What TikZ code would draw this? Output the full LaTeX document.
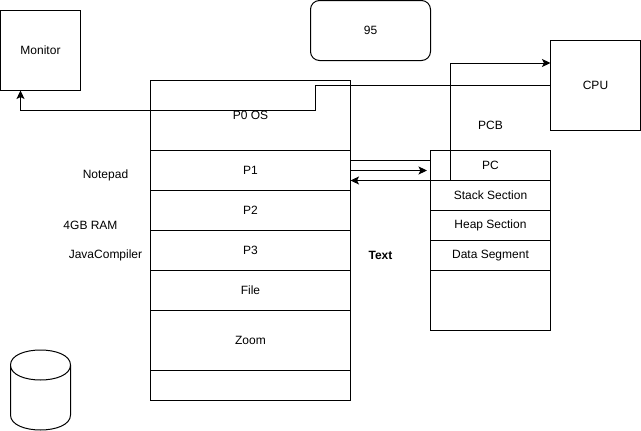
\documentclass[tikz,border=0pt]{standalone}
\usepackage{fontspec}
\setmainfont{Liberation Sans}
\usetikzlibrary{arrows.meta}

\tikzset{
  cell/.style={rectangle, draw, line width=1pt, inner sep=0pt, outer sep=0pt, font=\fontsize{12}{14}\selectfont},
  label/.style={inner sep=0pt, font=\fontsize{12}{14}\selectfont},
  link/.style={line width=1pt, -{Stealth[length=8.5pt,width=8pt,inset=2pt]}}
}

\begin{document}
\begin{tikzpicture}[x=1pt, y=-1pt, line width=1pt]
   \useasboundingbox (0,0) rectangle (641,431);

   \node [cell, minimum width=80pt, minimum height=80pt] (monitor) at (40.5,50.5) {Monitor};
   \node [cell, minimum width=90pt, minimum height=90pt] (cpu) at (595.5,85.5) {CPU};
   \node [cell, rounded corners=9pt, minimum width=120pt, minimum height=60pt] (box) at (370.5,30.5) {95};

   % memory
   \foreach \n/\y/\h/\t in {os/115.5/70/P0 OS, p1/170.5/40/P1, p2/210.5/40/P2, p3/250.5/40/P3,
                            file/290.5/40/File, zoom/340.5/60/Zoom, free/385.5/30/}
     \node [cell, minimum width=200pt, minimum height=\h pt] (\n) at (250.5,\y) {\t};

   % pcb
   \foreach \n/\y/\h/\t in {pc/165.5/30/PC, stack/195.5/30/Stack Section, heap/225.5/30/Heap Section,
                            data/255.5/30/Data Segment, rest/300.5/60/}
     \node [cell, minimum width=120pt, minimum height=\h pt] (\n) at (490.5,\y) {\t};

   \foreach \n/\x/\y/\t in {notepad/105.5/175/Notepad, ram/90.5/225/4GB RAM, javac/105.5/255/JavaCompiler,
                            pcb/490.5/125/PCB}
     \node [label] (\n) at (\x,\y) {\t};
   \node [label, font=\fontsize{12}{14}\selectfont\bfseries] (text) at (380.5,255) {Text};

   \coordinate (p1end) at (427,170.5);

   \draw [link] (cpu.west) -- (315.5,85.5) -- (315.5,110.5) -- (20.5,110.5) -- ([xshift=-20pt]monitor.south);
   \draw [link] ([xshift=20pt]pc.south west) -- (450.5,63) -- ([yshift=22.5pt]cpu.west);
   \draw ([yshift=10pt]p1.east) -- ([yshift=5pt]pc.west);
   \draw [link] (p1.east) -- (p1end);
   \draw [link] (pc.south west) -- ([yshift=-10pt]p1.east);

   % disk
   \draw (10.5,365) .. controls (10.5,345) and (70.5,345) .. (70.5,365) -- (70.5,415)
      .. controls (70.5,435) and (10.5,435) .. (10.5,415) -- cycle
      (10.5,365) .. controls (10.5,385) and (70.5,385) .. (70.5,365);
\end{tikzpicture}
\end{document}
